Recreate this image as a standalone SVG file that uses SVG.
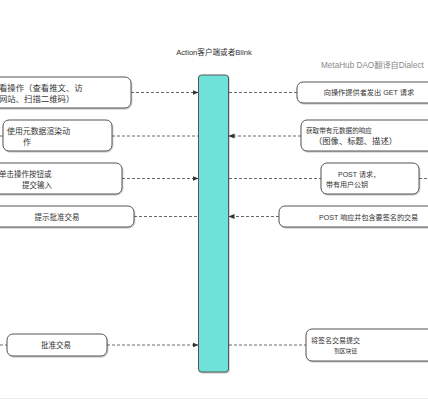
<svg xmlns="http://www.w3.org/2000/svg" width="428" height="400" viewBox="0 0 428 400">
<style>
text{font-family:"Liberation Sans","Noto Sans CJK SC",sans-serif;fill:#333}
.box{fill:#fff;stroke:#555;stroke-width:1;filter:url(#sh)}
.c{stroke:#444;stroke-width:0.8;stroke-dasharray:3 2;fill:none}
.a{marker-end:url(#ah)}
.t{font-size:7.5px}
.m{text-anchor:middle}
</style>
<defs>
<marker id="ah" viewBox="0 0 6 6" refX="5.5" refY="3" markerWidth="6" markerHeight="6" markerUnits="userSpaceOnUse" orient="auto">
<path d="M0,0.6 L6,3 L0,5.4 z" fill="#333"/>
</marker>
<filter id="sh" x="-10%" y="-20%" width="120%" height="150%">
<feDropShadow dx="0.6" dy="1" stdDeviation="0.6" flood-color="#000" flood-opacity="0.25"/>
</filter>
</defs>
<rect width="428" height="400" fill="#fff"/>
<line x1="0" y1="398.5" x2="428" y2="398.5" stroke="#ececec" stroke-width="1"/>
<text x="214" y="54.5" class="m" style="font-size:7.6px">Action客户端或者Blink</text>
<text x="321" y="67.5" style="font-size:8.2px;fill:#8a8a8a">MetaHub DAO翻译自Dialect</text>

<g id="connectors">
<line class="c a" x1="131" y1="92.5" x2="198" y2="92.5"/>
<line class="c" x1="0" y1="136" x2="3" y2="136"/>
<line class="c" x1="112" y1="136" x2="198" y2="136"/>
<line class="c a" x1="122" y1="178.5" x2="198" y2="178.5"/>
<line class="c" x1="134" y1="216.5" x2="198" y2="216.5"/>
<line class="c" x1="0" y1="345" x2="7" y2="345"/>
<line class="c a" x1="107" y1="345" x2="198" y2="345"/>
<line class="c" x1="229" y1="92.5" x2="297" y2="92.5"/>
<line class="c a" x1="301" y1="136" x2="229" y2="136"/>
<line class="c" x1="229" y1="178.5" x2="321" y2="178.5"/>
<line class="c" x1="419" y1="178.5" x2="428" y2="178.5"/>
<line class="c a" x1="279" y1="216.5" x2="229" y2="216.5"/>
<line class="c" x1="229" y1="345" x2="306" y2="345"/>
</g>

<g id="client">
<rect x="198.5" y="75" width="30" height="297" rx="3" fill="#6ee2d8" stroke="#555" stroke-width="1" filter="url(#sh)"/>
</g>

<g id="l1">
<rect class="box" x="-20" y="77" width="151" height="31" rx="6"/>
<text x="-1" y="91" style="font-size:8.4px">看操作（查看推文、访</text>
<text x="-1" y="101.5" style="font-size:8.4px">网站、扫描二维码）</text>
</g>
<g id="l2">
<rect class="box" x="3" y="120" width="109" height="31" rx="6"/>
<text x="7" y="134" style="font-size:7.9px">使用元数据渲染动</text>
<text x="23" y="144.5" style="font-size:7.9px">作</text>
</g>
<g id="l3">
<rect class="box" x="-20" y="163" width="142" height="31" rx="6"/>
<text x="-1" y="177" class="t">单击操作按钮或</text>
<text x="22" y="187.5" class="t">提交输入</text>
</g>
<g id="l4">
<rect class="box" x="-20" y="206" width="154" height="21" rx="6"/>
<text x="57" y="219.5" class="t m">提示批准交易</text>
</g>
<g id="l5">
<rect class="box" x="7" y="334" width="100" height="22" rx="6"/>
<text x="56" y="348" class="t m">批准交易</text>
</g>

<g id="r1">
<rect class="box" x="297" y="82" width="150" height="21" rx="6"/>
<text x="369" y="95" class="m" style="font-size:7.2px">向操作提供者发出 GET 请求</text>
</g>
<g id="r2">
<rect class="box" x="301" y="120" width="140" height="31" rx="6"/>
<text x="306" y="132.5" style="font-size:6.6px">获取带有元数据的响应</text>
<text x="314" y="144" style="font-size:8.3px">（图像、标题、描述）</text>
</g>
<g id="r3">
<rect class="box" x="321" y="163" width="98" height="31" rx="6"/>
<text x="338" y="176.5" style="font-size:7px">POST 请求，</text>
<text x="326" y="187" style="font-size:7px">带有用户公钥</text>
</g>
<g id="r4">
<rect class="box" x="279" y="206" width="170" height="21" rx="6"/>
<text x="319" y="219.5" style="font-size:7.1px">POST 响应并包含要签名的交易</text>
</g>
<g id="r5">
<rect class="box" x="306" y="329" width="140" height="32" rx="6"/>
<text x="311" y="342.5" style="font-size:7px">将签名交易提交</text>
<text x="334" y="352.5" style="font-size:5.8px">到区块链</text>
</g>
</svg>
